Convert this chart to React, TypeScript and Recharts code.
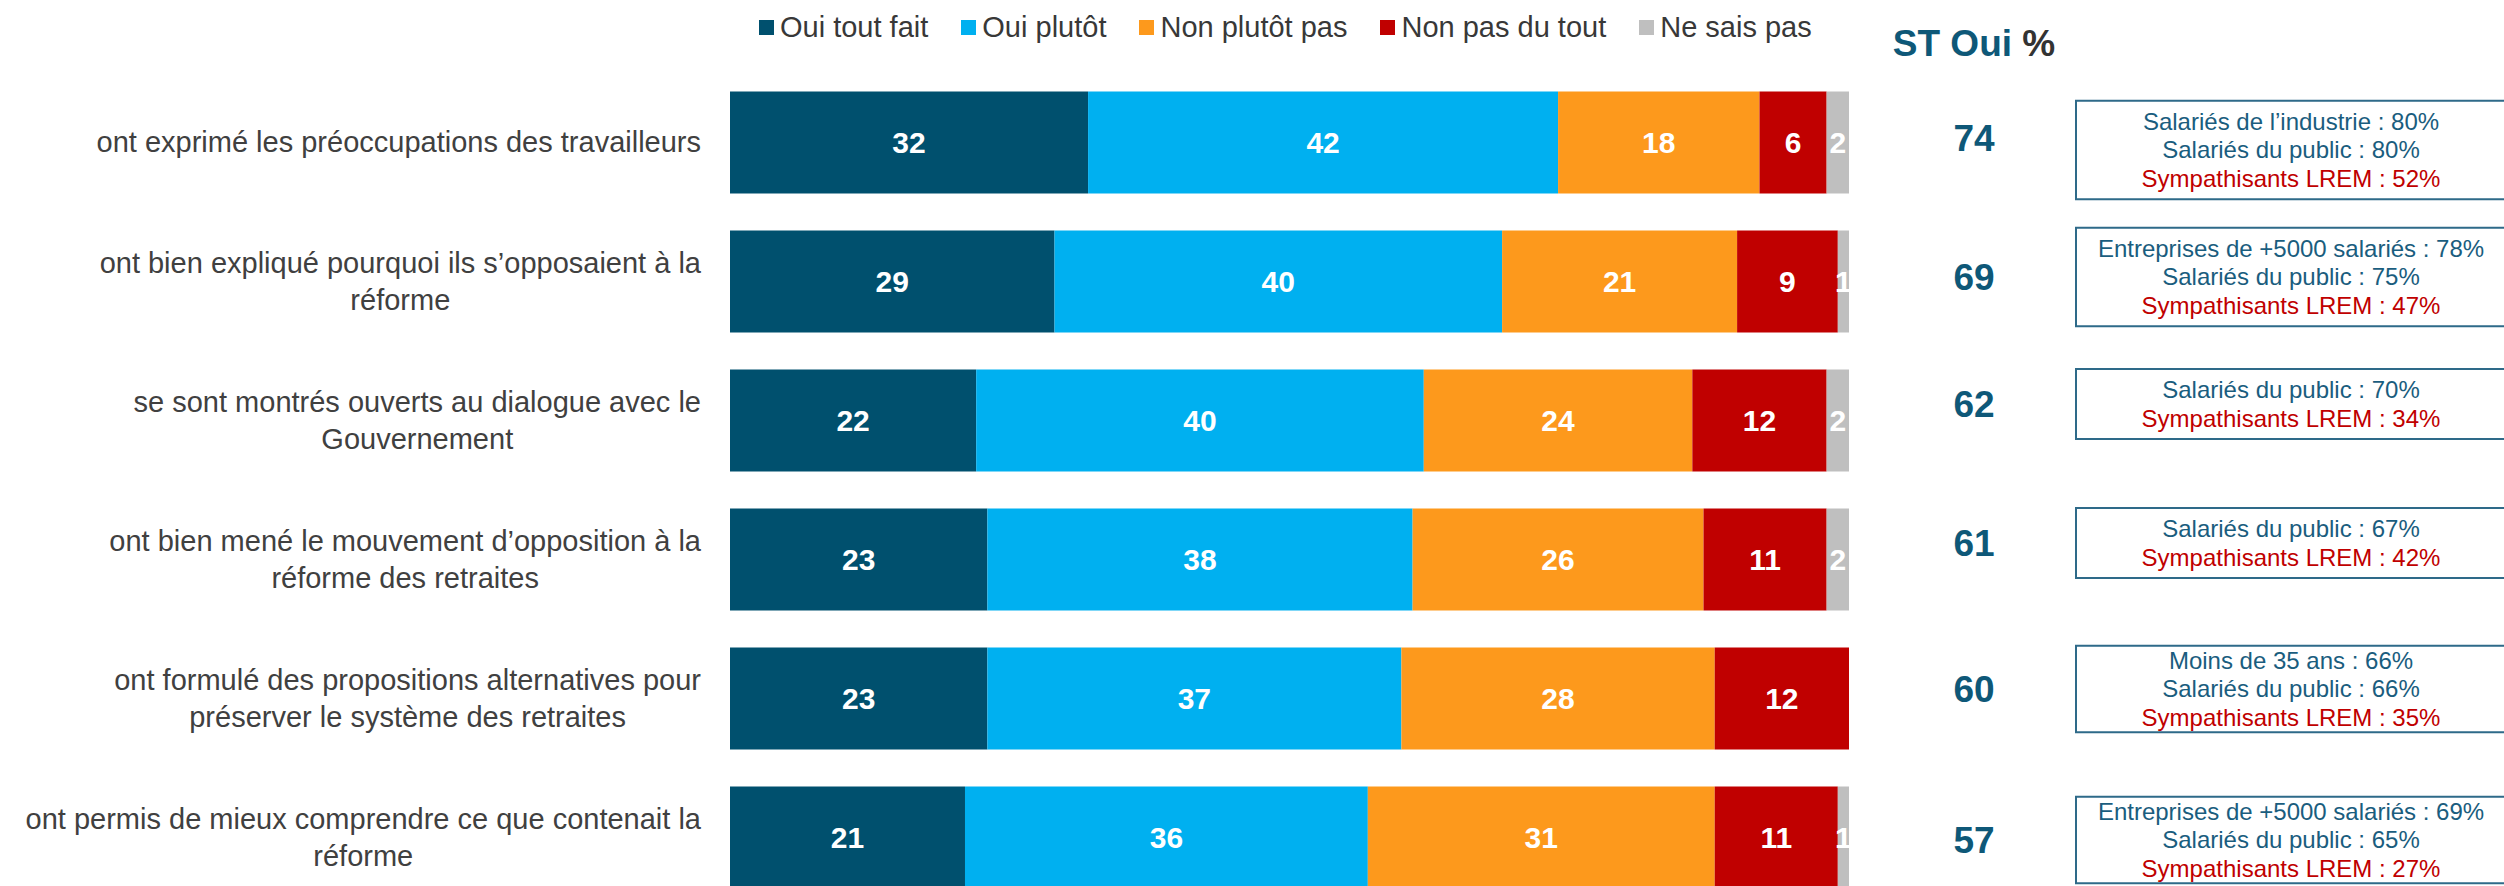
import React from 'react';
import { BarChart, Bar, XAxis, YAxis, Legend, LabelList } from 'recharts';

const categories = [
  'ont exprimé les préoccupations des travailleurs',
  'ont bien expliqué pourquoi ils s’opposaient à la\nréforme',
  'se sont montrés ouverts au dialogue avec le\nGouvernement',
  'ont bien mené le mouvement d’opposition à la\nréforme des retraites',
  'ont formulé des propositions alternatives pour\npréserver le système des retraites',
  'ont permis de mieux comprendre ce que contenait la\nréforme',
];

const ouiToutFait = [32, 29, 22, 23, 23, 21];
const ouiPlutot = [42, 40, 40, 38, 37, 36];
const nonPlutotPas = [18, 21, 24, 26, 28, 31];
const nonPasDuTout = [6, 9, 12, 11, 12, 11];
const neSaisPas = [2, 1, 2, 2, 0, 1];
const stOui = [74, 69, 62, 61, 60, 57];

const notes = [
  ['Salariés de l’industrie : 80%', 'Salariés du public : 80%', 'Sympathisants LREM : 52%'],
  ['Entreprises de +5000 salariés : 78%', 'Salariés du public : 75%', 'Sympathisants LREM : 47%'],
  ['Salariés du public : 70%', 'Sympathisants LREM : 34%'],
  ['Salariés du public : 67%', 'Sympathisants LREM : 42%'],
  ['Moins de 35 ans : 66%', 'Salariés du public : 66%', 'Sympathisants LREM : 35%'],
  ['Entreprises de +5000 salariés : 69%', 'Salariés du public : 65%', 'Sympathisants LREM : 27%'],
];

// vertical nudges of the right-hand column, relative to each bar centre
const stOffset = [-4, -4, -16, -16, -9, 3];
const boxOffset = [8, -4, -16, -16, -9, 3];
const boxPad = [13, 13, 13, 13, 1, 1];

const data = categories.map((label, i) => ({
  label,
  ouiToutFait: ouiToutFait[i],
  ouiPlutot: ouiPlutot[i],
  nonPlutotPas: nonPlutotPas[i],
  nonPasDuTout: nonPasDuTout[i],
  neSaisPas: neSaisPas[i],
}));

const FONT = '"Liberation Sans", Arial, sans-serif';
const TEAL = '#0E5878';
const NOTE_BLUE = '#1A5D7E';
const RED = '#C00000';

const series = [
  { key: 'ouiToutFait', name: 'Oui tout fait', color: '#00506E' },
  { key: 'ouiPlutot', name: 'Oui plutôt', color: '#00B0F0' },
  { key: 'nonPlutotPas', name: 'Non plutôt pas', color: '#FD991C' },
  { key: 'nonPasDuTout', name: 'Non pas du tout', color: '#C00000' },
  { key: 'neSaisPas', name: 'Ne sais pas', color: '#BFBFBF' },
];

let ctx: CanvasRenderingContext2D | null = null;
function textWidth(s: string, size: number) {
  if (!ctx) ctx = document.createElement('canvas').getContext('2d');
  if (!ctx) return s.length * size * 0.5;
  ctx.font = `${size}px ${FONT}`;
  return ctx.measureText(s).width;
}

function CategoryTick(props: any) {
  const { x, y, payload } = props;
  const lines = String(payload.value).split('\n');
  const w = Math.max(...lines.map((l) => textWidth(l, 29)));
  const right = x - 29;
  const cx = right - w / 2;
  const lh = 37;
  return (
    <g>
      {lines.map((l, j) => (
        <text
          key={j}
          x={cx}
          y={y + (j - (lines.length - 1) / 2) * lh}
          dy="0.35em"
          textAnchor="middle"
          fontFamily={FONT}
          fontSize={29}
          fill="#404040"
        >
          {l}
        </text>
      ))}
    </g>
  );
}

function NoteTick(props: any) {
  const { x, y, index } = props;
  const lines = notes[index];
  const by = y + boxOffset[index];
  const h = lines.length * 28.5 + boxPad[index];
  const boxX = x + 227;
  return (
    <g>
      <text
        x={x + 125}
        y={y + stOffset[index]}
        dy="0.35em"
        textAnchor="middle"
        fontFamily={FONT}
        fontSize={37}
        fontWeight="bold"
        fill={TEAL}
      >
        {stOui[index]}
      </text>
      <rect x={boxX} y={by - h / 2} width={430} height={h} fill="none" stroke="#2E6A89" strokeWidth={2} />
      {lines.map((l, j) => (
        <text
          key={j}
          x={boxX + 215}
          y={by + (j - (lines.length - 1) / 2) * 28.5}
          dy="0.35em"
          textAnchor="middle"
          fontFamily={FONT}
          fontSize={24}
          fill={l.startsWith('Sympathisants') ? RED : NOTE_BLUE}
        >
          {l}
        </text>
      ))}
    </g>
  );
}

function LegendContent() {
  return (
    <div
      style={{
        display: 'flex',
        alignItems: 'center',
        height: 54,
        fontFamily: FONT,
        fontSize: 29,
        lineHeight: 1,
        color: '#383838',
        whiteSpace: 'nowrap',
      }}
    >
      {series.map((s) => (
        <div key={s.key} style={{ display: 'flex', alignItems: 'center', marginRight: 33 }}>
          <span style={{ display: 'inline-block', width: 15, height: 15, background: s.color, marginRight: 6 }} />
          {s.name}
        </div>
      ))}
    </div>
  );
}

const hideZero = (v: any) => (v ? v : '');

export default function App() {
  return (
    <div style={{ position: 'fixed', left: 0, top: 0, width: 2504, height: 886, overflow: 'hidden', background: '#fff' }}>
      <BarChart
        width={2504}
        height={907}
        data={data}
        layout="vertical"
        margin={{ top: 18.5, right: 0, bottom: 0.5, left: 0 }}
      >
        <XAxis type="number" domain={[0, 100]} hide />
        <YAxis
          type="category"
          dataKey="label"
          width={730}
          axisLine={false}
          tickLine={false}
          tickSize={0}
          tickMargin={0}
          interval={0}
          tick={<CategoryTick />}
        />
        <YAxis
          yAxisId="right"
          orientation="right"
          type="category"
          dataKey="label"
          width={655}
          axisLine={false}
          tickLine={false}
          tickSize={0}
          tickMargin={0}
          interval={0}
          tick={<NoteTick />}
        />
        <Legend
          verticalAlign="top"
          align="left"
          content={<LegendContent />}
          wrapperStyle={{ top: 0, left: 759, width: 'auto' }}
        />
        {series.map((s) => (
          <Bar key={s.key} dataKey={s.key} name={s.name} stackId="a" fill={s.color} barSize={102} isAnimationActive={false}>
            <LabelList
              dataKey={s.key}
              position="center"
              formatter={hideZero}
              fill="#FFFFFF"
              fontFamily={FONT}
              fontSize={30}
              fontWeight="bold"
            />
          </Bar>
        ))}
        <text x={1974} y={43} dy="0.35em" textAnchor="middle" fontFamily={FONT} fontSize={37} fontWeight="bold" fill={TEAL}>
          ST Oui <tspan fill="#333333">%</tspan>
        </text>
      </BarChart>
    </div>
  );
}
